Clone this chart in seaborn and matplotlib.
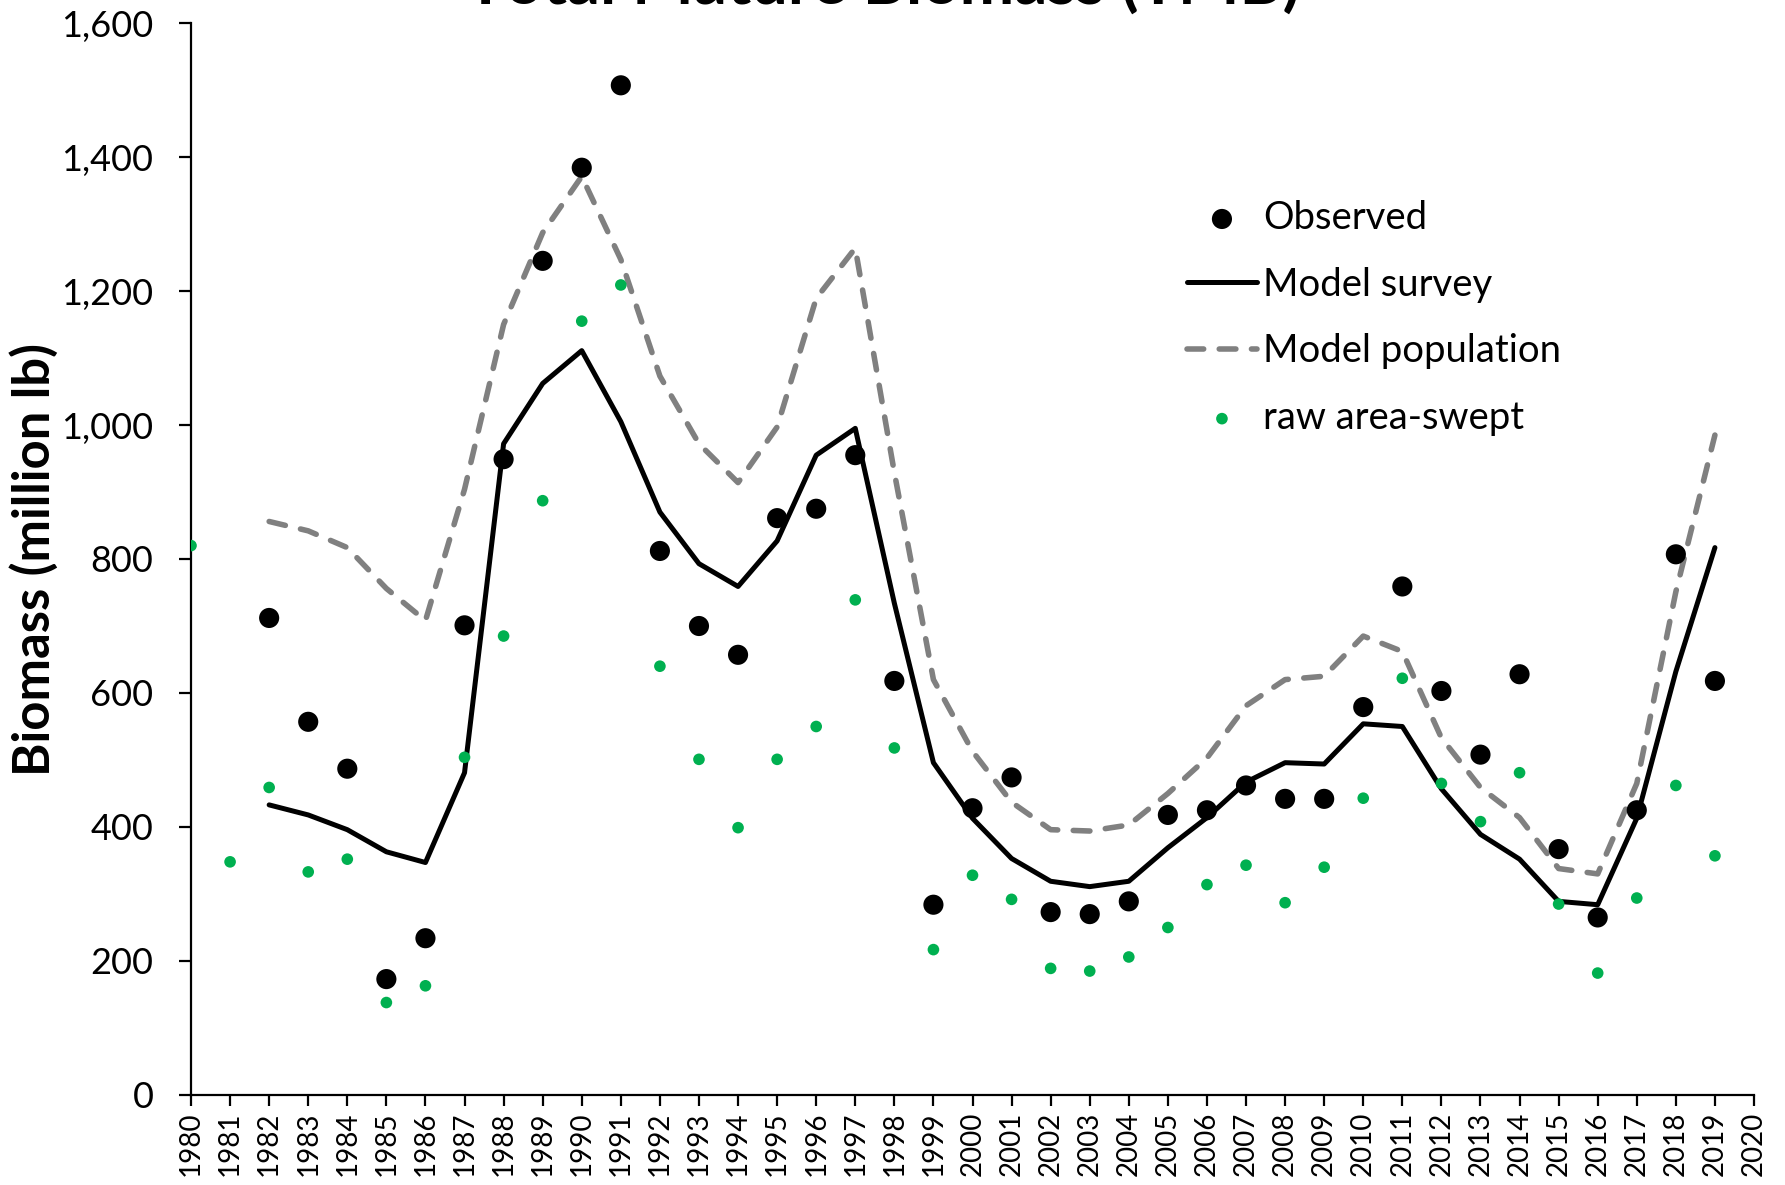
import matplotlib
matplotlib.use("Agg")
import matplotlib.pyplot as plt
import seaborn as sns
import numpy as np
import pandas as pd
from matplotlib.ticker import StrMethodFormatter, MultipleLocator

# ---- data ----
obs_years = list(range(1982, 2020))
observed = [712, 557, 487, 173, 234, 701, 949, 1245, 1384, 1507, 812, 700, 657, 861, 875, 955,
            618, 284, 428, 474, 273, 270, 289, 418, 425, 462, 442, 442, 579, 759, 603, 508, 628,
            367, 265, 425, 807, 618]

raw_years = list(range(1980, 2020))
raw_area_swept = [820, 348, 459, 333, 352, 138, 163, 504, 685, 887, 1155, 1209, 640, 501, 399, 501,
                  550, 739, 518, 217, 328, 292, 189, 185, 206, 250, 314, 343, 287, 340, 443, 622,
                  465, 408, 481, 285, 182, 294, 462, 357]

model_years = list(range(1982, 2020))
model_survey = [433, 418, 396, 363, 347, 481, 972, 1062, 1111, 1005, 870, 793, 759, 827, 955, 995,
                734, 496, 413, 353, 319, 311, 319, 369, 414, 467, 496, 494, 554, 550, 457, 389, 352,
                289, 284, 413, 632, 817]
model_population = [856, 842, 817, 756, 708, 904, 1150, 1287, 1371, 1247, 1073, 972, 914, 997, 1189,
                     1264, 929, 620, 513, 437, 396, 394, 403, 450, 503, 581, 620, 625, 685, 662, 533,
                     459, 414, 338, 330, 465, 751, 985]

title = "Total Mature Biomass (TMB)"
ylabel = "Biomass (million lb)"

# ---- style ----
sns.set_theme(style="white")
plt.rcParams['font.family'] = ['Lato', 'DejaVu Sans']

fig = plt.figure(figsize=(17.85, 11.85), dpi=100)
ax = fig.add_axes([191/1785, 1-1095/1185, (1754-191)/1785, (1095-23)/1185])

sns.scatterplot(x=obs_years, y=observed, ax=ax, color="black", s=210, edgecolor="none",
                label="Observed", zorder=4)
sns.lineplot(x=model_years, y=model_survey, ax=ax, color="black", linewidth=3.6,
             label="Model survey", zorder=3)
sns.lineplot(x=model_years, y=model_population, ax=ax, color="#808080", linewidth=4.0,
             linestyle=(0, (3.0, 2.8)), dash_capstyle="round", label="Model population", zorder=2)
sns.scatterplot(x=raw_years, y=raw_area_swept, ax=ax, color="#00B050", s=70, edgecolor="none",
                label="raw area-swept", zorder=5)

ax.set_xlim(1980, 2020)
ax.set_ylim(0, 1600)
ax.yaxis.set_major_locator(MultipleLocator(200))
ax.yaxis.set_major_formatter(StrMethodFormatter('{x:,.0f}'))
ax.set_xticks(range(1980, 2021))
ax.set_xticklabels([str(y) for y in range(1980, 2021)], rotation=90)

for side in ["top", "right"]:
    ax.spines[side].set_visible(False)
for side in ["left", "bottom"]:
    ax.spines[side].set_color("black")
    ax.spines[side].set_linewidth(1.6)

ax.tick_params(axis="y", which="major", direction="out", length=9, width=1.6, color="black",
               left=True, labelsize=26, pad=18, labelcolor="black")
ax.tick_params(axis="x", which="major", direction="out", length=8, width=1.6, color="black",
               bottom=True, labelsize=20, pad=4, labelcolor="black")

ax.set_xlabel("")
ax.set_ylabel(ylabel, fontsize=36.5, fontweight="bold", color="black")
ax.yaxis.set_label_coords(-0.0845, 0.5)

fig.text(0.495, 1-4/1185, title, fontsize=47, fontweight="bold", ha="center",
         va="baseline", color="black")

handles, labels = ax.get_legend_handles_labels()
order = ["Observed", "Model survey", "Model population", "raw area-swept"]
hmap = dict(zip(labels, handles))
leg = ax.legend([hmap[k] for k in order], order, loc="upper left",
                bbox_to_anchor=(1187/1785, 1-200/1185), bbox_transform=fig.transFigure,
                frameon=False, fontsize=27.5, handlelength=1.83, handletextpad=0.16,
                labelspacing=0.8, borderpad=0, borderaxespad=0)
for t in leg.get_texts():
    t.set_color("black")

fig.savefig("out.png", dpi=100, facecolor="white")
